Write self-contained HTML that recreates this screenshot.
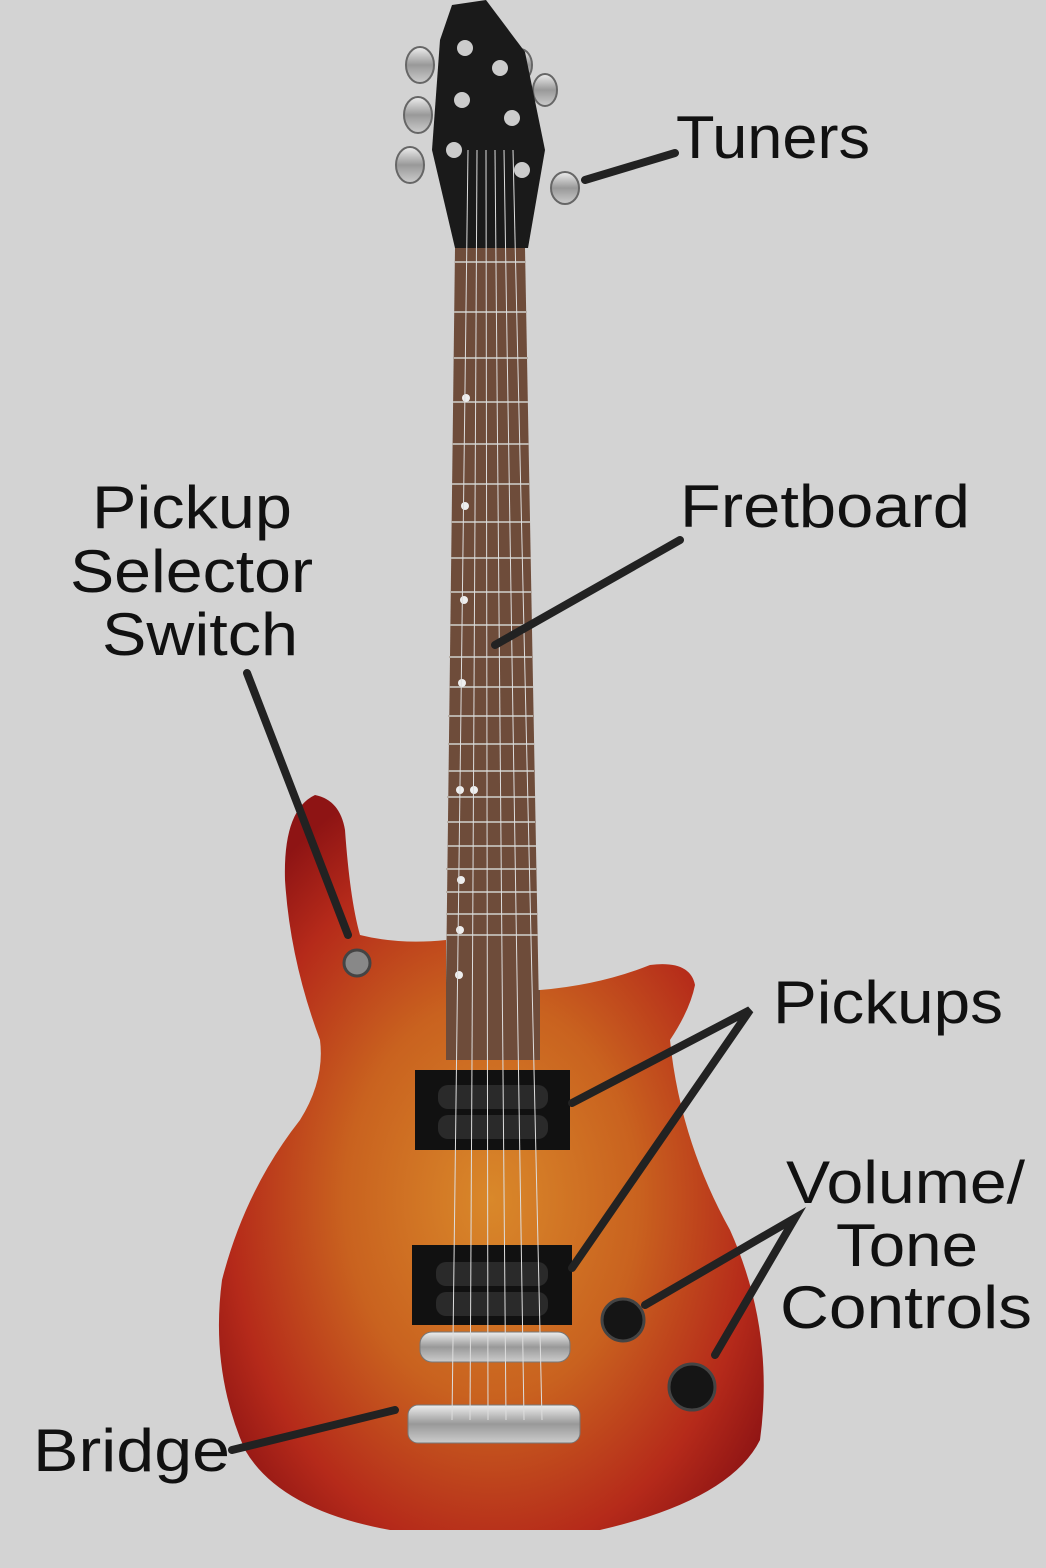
<!DOCTYPE html>
<html><head><meta charset="utf-8"><style>
html,body{margin:0;padding:0;background:#d3d3d3}
svg{display:block}
text{font-family:"Liberation Sans",sans-serif;font-size:60px;fill:#111}
</style></head><body>
<svg width="1046" height="1568" viewBox="0 0 1046 1568" xmlns="http://www.w3.org/2000/svg">
<defs>
<radialGradient id="burst" cx="0.5" cy="0.55" r="0.6">
<stop offset="0" stop-color="#d9882a"/>
<stop offset="0.45" stop-color="#c9621f"/>
<stop offset="0.8" stop-color="#b52a1a"/>
<stop offset="1" stop-color="#8e1414"/>
</radialGradient>
<linearGradient id="chrome" x1="0" y1="0" x2="0" y2="1">
<stop offset="0" stop-color="#eee"/><stop offset="0.5" stop-color="#999"/><stop offset="1" stop-color="#ccc"/>
</linearGradient>
</defs>
<rect width="1046" height="1568" fill="#d3d3d3"/>
<g fill="url(#chrome)" stroke="#666" stroke-width="2">
<ellipse cx="420" cy="65" rx="14" ry="18"/><ellipse cx="418" cy="115" rx="14" ry="18"/><ellipse cx="410" cy="165" rx="14" ry="18"/>
<ellipse cx="520" cy="65" rx="12" ry="16"/><ellipse cx="545" cy="90" rx="12" ry="16"/><ellipse cx="565" cy="188" rx="14" ry="16"/>
</g>
<polygon points="452,5 486,0 525,52 545,150 528,248 455,248 432,150 440,40" fill="#1a1a1a"/>
<g fill="#ccc"><circle cx="465" cy="48" r="8"/><circle cx="462" cy="100" r="8"/><circle cx="454" cy="150" r="8"/><circle cx="500" cy="68" r="8"/><circle cx="512" cy="118" r="8"/><circle cx="522" cy="170" r="8"/></g>
<polygon points="455,248 525,248 540,1065 445,1065" fill="#6e4c3a"/>
<g stroke="#b8b0a8" stroke-width="2">
<line x1="455" y1="262" x2="526" y2="262"/><line x1="454" y1="312" x2="527" y2="312"/><line x1="454" y1="358" x2="528" y2="358"/><line x1="453" y1="402" x2="528" y2="402"/><line x1="452" y1="444" x2="529" y2="444"/><line x1="452" y1="484" x2="530" y2="484"/><line x1="451" y1="522" x2="530" y2="522"/><line x1="451" y1="558" x2="531" y2="558"/><line x1="450" y1="592" x2="531" y2="592"/><line x1="450" y1="625" x2="532" y2="625"/><line x1="449" y1="657" x2="532" y2="657"/><line x1="449" y1="687" x2="533" y2="687"/><line x1="448" y1="716" x2="533" y2="716"/><line x1="448" y1="744" x2="534" y2="744"/><line x1="448" y1="771" x2="534" y2="771"/><line x1="447" y1="797" x2="535" y2="797"/><line x1="447" y1="822" x2="535" y2="822"/><line x1="447" y1="846" x2="536" y2="846"/><line x1="446" y1="869" x2="536" y2="869"/><line x1="446" y1="892" x2="537" y2="892"/><line x1="446" y1="914" x2="537" y2="914"/><line x1="446" y1="935" x2="538" y2="935"/>
</g>
<g fill="#eee"><circle cx="466" cy="398" r="4"/><circle cx="465" cy="506" r="4"/><circle cx="464" cy="600" r="4"/><circle cx="462" cy="683" r="4"/><circle cx="460" cy="790" r="4"/><circle cx="474" cy="790" r="4"/><circle cx="461" cy="880" r="4"/><circle cx="460" cy="930" r="4"/><circle cx="459" cy="975" r="4"/><circle cx="459" cy="1015" r="4"/></g>
<path d="M315,795 Q340,800 345,830 Q350,900 360,935 Q400,945 446,940 L446,1060 L540,1060 L540,990 Q600,985 650,965 Q690,960 695,985 Q690,1010 670,1040 Q680,1140 730,1230 Q775,1330 760,1440 Q730,1500 600,1530 L390,1530 Q280,1510 245,1450 Q210,1370 222,1280 Q245,1190 300,1120 Q325,1080 320,1040 Q290,960 285,880 Q283,810 315,795 Z" fill="url(#burst)"/>
<polygon points="446,1060 540,1060 540,990 446,990" fill="#6e4c3a"/>
<rect x="415" y="1070" width="155" height="80" fill="#111"/>
<rect x="438" y="1085" width="110" height="24" rx="10" fill="#2a2a2a"/><rect x="438" y="1115" width="110" height="24" rx="10" fill="#2a2a2a"/>
<rect x="412" y="1245" width="160" height="80" fill="#111"/>
<rect x="436" y="1262" width="112" height="24" rx="10" fill="#2a2a2a"/><rect x="436" y="1292" width="112" height="24" rx="10" fill="#2a2a2a"/>
<rect x="420" y="1332" width="150" height="30" rx="12" fill="url(#chrome)" stroke="#777"/>
<rect x="408" y="1405" width="172" height="38" rx="10" fill="url(#chrome)" stroke="#777"/>
<g stroke="#ddd" stroke-width="1"><line x1="468" y1="150" x2="452" y2="1420"/><line x1="477" y1="150" x2="470" y2="1420"/><line x1="486" y1="150" x2="488" y2="1420"/><line x1="495" y1="150" x2="506" y2="1420"/><line x1="504" y1="150" x2="524" y2="1420"/><line x1="513" y1="150" x2="542" y2="1420"/></g>
<circle cx="623" cy="1320" r="21" fill="#151515" stroke="#444" stroke-width="3"/><circle cx="692" cy="1387" r="23" fill="#151515" stroke="#444" stroke-width="3"/>
<circle cx="357" cy="963" r="13" fill="#888" stroke="#444" stroke-width="3"/>
<g stroke="#222" stroke-width="8" stroke-linecap="round" fill="none">
<line x1="585" y1="180" x2="675" y2="153"/>
<line x1="495" y1="645" x2="680" y2="540"/>
<line x1="247" y1="673" x2="348" y2="935"/>
<polyline points="572,1103 750,1010 572,1268"/>
<polyline points="645,1305 795,1218 715,1355"/>
<line x1="232" y1="1450" x2="395" y2="1410"/>
</g>
<text x="676" y="158" textLength="194" lengthAdjust="spacingAndGlyphs">Tuners</text>
<text x="680" y="527" textLength="290" lengthAdjust="spacingAndGlyphs">Fretboard</text>
<text x="92" y="528" textLength="200" lengthAdjust="spacingAndGlyphs">Pickup</text>
<text x="70" y="592" textLength="243" lengthAdjust="spacingAndGlyphs">Selector</text>
<text x="102" y="655" textLength="196" lengthAdjust="spacingAndGlyphs">Switch</text>
<text x="773" y="1023" textLength="230" lengthAdjust="spacingAndGlyphs">Pickups</text>
<text x="786" y="1203" textLength="239" lengthAdjust="spacingAndGlyphs">Volume/</text>
<text x="836" y="1266" textLength="142" lengthAdjust="spacingAndGlyphs">Tone</text>
<text x="780" y="1328" textLength="252" lengthAdjust="spacingAndGlyphs">Controls</text>
<text x="33" y="1471" textLength="197" lengthAdjust="spacingAndGlyphs">Bridge</text>
</svg>
</body></html>
